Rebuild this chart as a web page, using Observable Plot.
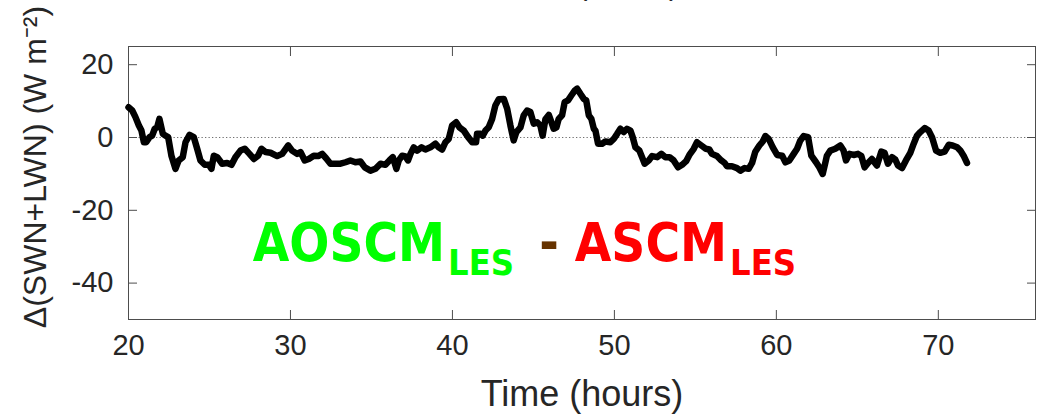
<!DOCTYPE html>
<html>
<head>
<meta charset="utf-8">
<script src="https://cdn.jsdelivr.net/npm/d3@7"></script>
<script src="https://cdn.jsdelivr.net/npm/@observablehq/plot@0.6"></script>
<style>
  html, body { margin: 0; padding: 0; background: #fff; }
  #chart svg { display: block; overflow: visible; }
</style>
</head>
<body>
<div id="chart"></div>
<script>
// Time axis (hours) and net radiation difference Δ(SWN+LWN) (W m^-2)
const time = [
  20.0, 20.23, 20.43, 20.64, 20.8, 20.95, 21.09, 21.3, 21.46, 21.62, 21.77, 21.91,
  22.12, 22.28, 22.45, 22.65, 22.9, 23.1, 23.35, 23.52, 23.77, 24.03, 24.24, 24.44,
  24.71, 24.96, 25.12, 25.27, 25.48, 25.78, 26.09, 26.36, 26.6, 26.91, 27.18, 27.47,
  27.74, 28.0, 28.21, 28.46, 28.77, 29.18, 29.49, 29.86, 30.1, 30.41, 30.62, 30.88,
  31.13, 31.44, 31.71, 31.96, 32.2, 32.47, 32.78, 33.09, 33.4, 33.7, 34.01, 34.32,
  34.59, 34.94, 35.25, 35.56, 35.86, 36.11, 36.32, 36.54, 36.69, 36.9, 37.1, 37.26,
  37.41, 37.61, 37.82, 38.09, 38.33, 38.64, 38.95, 39.15, 39.36, 39.57, 39.77, 39.98,
  40.23, 40.43, 40.7, 40.97, 41.22, 41.46, 41.52, 41.73, 41.87, 42.04, 42.24, 42.45,
  42.65, 42.86, 43.17, 43.38, 43.58, 43.78, 43.95, 44.2, 44.4, 44.61, 44.81, 45.02,
  45.23, 45.43, 45.57, 45.74, 45.95, 46.11, 46.25, 46.42, 46.56, 46.77, 46.93, 47.14,
  47.35, 47.55, 47.7, 47.9, 48.11, 48.26, 48.42, 48.58, 48.73, 48.83, 48.99, 49.24,
  49.44, 49.75, 49.96, 50.17, 50.37, 50.57, 50.78, 50.99, 51.13, 51.3, 51.54, 51.71,
  51.87, 52.12, 52.33, 52.64, 52.9, 53.15, 53.4, 53.66, 53.93, 54.18, 54.43, 54.63,
  54.9, 55.1, 55.37, 55.65, 55.86, 56.02, 56.33, 56.6, 56.81, 56.95, 57.26, 57.57,
  57.78, 58.04, 58.29, 58.5, 58.7, 58.95, 59.16, 59.32, 59.53, 59.78, 60.05, 60.36,
  60.56, 60.8, 61.07, 61.28, 61.48, 61.69, 61.96, 62.16, 62.45, 62.65, 62.86, 63.02,
  63.12, 63.33, 63.64, 63.95, 64.15, 64.3, 64.51, 64.77, 65.04, 65.25, 65.45, 65.66,
  65.9, 66.21, 66.48, 66.68, 66.89, 67.14, 67.35, 67.51, 67.76, 68.0, 68.27, 68.48,
  68.68, 68.89, 69.16, 69.4, 69.61, 69.86, 70.12, 70.39, 70.64, 70.88, 71.16, 71.36,
  71.56, 71.77
];
const dnet = [
  8.3, 7.4, 5.6, 3.3, 1.9, -1.3, -1.3, 0.1, 0.5, 2.4, 2.8, 5.1,
  1.0, 0.5, 0.1, -5.0, -8.6, -6.3, -5.4, -1.3, 0.7, 0.1, -3.1, -6.3,
  -7.5, -7.5, -8.6, -5.0, -5.4, -7.2, -7.0, -7.5, -5.4, -3.6, -3.1, -4.5,
  -5.9, -5.0, -3.1, -4.0, -4.2, -5.1, -4.5, -2.2, -3.6, -4.5, -4.0, -6.3,
  -5.9, -5.0, -5.1, -4.5, -5.7, -7.2, -7.2, -7.2, -6.8, -6.3, -6.8, -6.6,
  -8.2, -9.1, -8.6, -7.2, -7.5, -6.3, -5.4, -8.6, -6.3, -5.0, -5.2, -6.3,
  -4.5, -2.7, -3.6, -2.7, -3.3, -2.7, -1.7, -2.7, -3.3, -1.3, -0.4, 3.3,
  4.2, 2.8, 1.9, 0.1, -1.3, -1.3, 1.0, 1.0, 0.5, 1.9, 2.8, 5.1,
  8.8, 10.5, 10.6, 7.9, 3.3, -0.8, 1.5, 2.8, 6.1, 7.4, 7.0, 3.8,
  4.2, 3.3, 0.5, 5.0, 6.2, 4.2, 2.4, 2.8, 5.1, 6.1, 9.7, 10.2,
  11.6, 12.9, 13.4, 12.0, 10.6, 10.2, 6.1, 5.1, 2.4, 1.9, -1.7, -1.7,
  -1.1, -1.3, -0.4, 1.0, 2.4, 1.5, 2.4, 1.9, 0.1, -2.7, -3.6, -5.4,
  -7.2, -6.3, -5.1, -5.4, -4.5, -5.4, -5.4, -6.3, -8.2, -7.5, -6.5, -4.8,
  -3.1, -1.3, -2.2, -3.1, -3.3, -4.5, -5.1, -6.3, -7.0, -7.9, -7.9, -8.4,
  -9.1, -8.4, -8.6, -7.0, -3.9, -2.2, -1.1, 0.4, -0.4, -2.7, -4.8, -5.0,
  -6.8, -6.3, -4.5, -3.1, -0.8, 0.4, 0.1, -5.0, -6.8, -8.2, -10.0, -7.0,
  -5.0, -3.6, -3.1, -2.2, -3.6, -6.3, -4.5, -4.8, -4.5, -5.1, -8.2, -7.0,
  -5.9, -7.7, -3.9, -4.2, -7.2, -5.4, -6.1, -7.7, -8.4, -6.3, -4.2, -1.7,
  0.5, 1.5, 2.6, 1.9, 0.1, -3.6, -4.2, -3.9, -2.0, -2.2, -2.7, -3.6,
  -5.0, -7.0
];

const xTicks = [20, 30, 40, 50, 60, 70];
const yTicks = [-40, -20, 0, 20];
const xLabel = "Time (hours)";
const yLabel = "Δ(SWN+LWN) (W m⁻²)";
const topTitle = "(W m⁻²)";

// Annotation parts: [text, colour, subscript?]
const noteParts = [
  ["AOSCM", "#00ff00", false],
  ["LES", "#00ff00", true],
  ["-", "#663300", false],
  ["ASCM", "#ff0000", false],
  ["LES", "#ff0000", true]
];
const noteAnchor = {time: 27.7, value: -34.2};

const series = time.map((t, i) => ({t, v: dnet[i]}));
const ink = "#262626";
const frameInk = "#4d4d4d";

const chart = Plot.plot({
  width: 1041,
  height: 418,
  marginLeft: 128,
  marginRight: 6,
  marginTop: 46,
  marginBottom: 99,
  style: {
    fontFamily: '"Liberation Sans", Arial, Helvetica, sans-serif',
    fontSize: "29px",
    color: ink,
    background: "white",
    overflow: "visible"
  },
  x: {domain: [20, 76]},
  y: {domain: [-50, 25]},
  marks: [
    Plot.ruleY([0], {stroke: "#707070", strokeWidth: 1, strokeDasharray: "1.3,2.2"}),
    Plot.frame({stroke: frameInk, strokeWidth: 1}),
    Plot.axisX({ticks: xTicks, tickSize: -9, tickPadding: 24, tickFormat: d => String(d), stroke: frameInk, label: null}),
    Plot.axisX({anchor: "top", ticks: xTicks, tickSize: -9, tickFormat: () => "", stroke: frameInk, label: null}),
    Plot.axisY({ticks: yTicks, tickSize: -9, tickPadding: 24, tickFormat: d => String(d), stroke: frameInk, label: null}),
    Plot.axisY({anchor: "right", ticks: yTicks, tickSize: -9, tickFormat: () => "", stroke: frameInk, label: null}),
    Plot.line(series, {x: "t", y: "v", stroke: "black", strokeWidth: 6.5, strokeLinejoin: "round", strokeLinecap: "round"}),
    Plot.text([xLabel], {frameAnchor: "bottom", dy: 86, lineAnchor: "bottom", fontSize: 36, fill: ink}),
    Plot.text([yLabel], {frameAnchor: "left", textAnchor: "middle", rotate: -90, dx: -93, dy: -16, fontSize: 32, fill: ink}),
    Plot.text([topTitle], {frameAnchor: "top-left", dx: 449, dy: -52, textAnchor: "start", lineAnchor: "bottom", fontSize: 30, fill: ink})
  ]
});

// Coloured model-difference label with subscripts
const xs = chart.scale("x"), ys = chart.scale("y");
const note = d3.select(chart).append("text")
  .attr("x", xs.apply(noteAnchor.time))
  .attr("y", ys.apply(noteAnchor.value))
  .attr("text-anchor", "start")
  .attr("font-family", '"DejaVu Sans Condensed", "DejaVu Sans", sans-serif')
  .attr("font-weight", "bold");
let sub = false;
noteParts.forEach(([txt, col, isSub], i) => {
  const ts = note.append("tspan").attr("fill", col).text(txt)
    .attr("font-size", isSub ? 36 : 52.5);
  let dy = 0;
  if (isSub && !sub) dy = 14;
  if (!isSub && sub) dy = -14;
  ts.attr("dy", dy);
  if (i > 0) ts.attr("dx", isSub ? 3 : (txt === "-" ? 25 : 16));
  sub = isSub;
});

document.getElementById("chart").append(chart);
</script>
</body>
</html>
